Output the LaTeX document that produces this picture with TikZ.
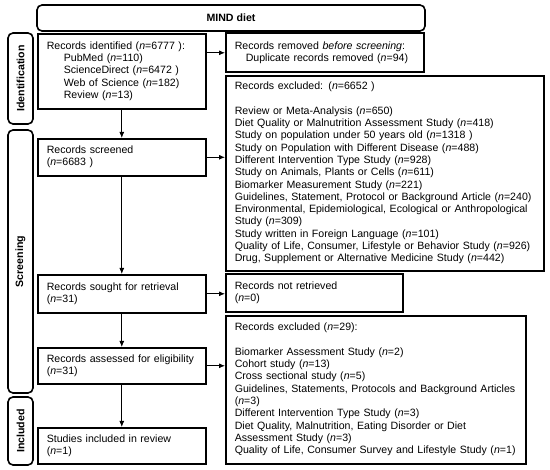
\documentclass[tikz,border=0pt]{standalone}
\usepackage{fontspec}
\setmainfont{Liberation Sans}
\usetikzlibrary{positioning, arrows.meta}

\tikzset{
  box/.style={draw, line width=1.6pt, anchor=north west, align=left, inner xsep=9pt, font=\fontsize{10.6}{12.3}\selectfont},
  phase/.style={draw, line width=1.6pt, rounded corners=5pt, rotate=90, font=\bfseries\fontsize{10.6}{12}\selectfont},
  flow/.style={-{Latex[length=6pt,width=5pt]}, line width=0.8pt}
}
\newcommand{\nn}{\textit{n}}
\newcommand{\boxlines}[1]{\begin{tabular}{@{}l@{}}#1\end{tabular}}

\begin{document}
\begin{tikzpicture}[x=1pt, y=-1pt]
\useasboundingbox (0,0) rectangle (550,470);

\node[draw, line width=1.6pt, rounded corners=5pt, minimum width=388pt, minimum height=26pt, font=\bfseries\fontsize{10.6}{12}\selectfont] at (231,18) (title) {MIND diet} ;

\node[phase, minimum width=91pt, minimum height=25pt] at (20.5,78.5) (lblIdent) {Identification} ;
\node[phase, minimum width=263pt, minimum height=25pt] at (20.5,261.5) (lblScreen) {Screening} ;
\node[phase, minimum width=68pt, minimum height=25pt] at (20.5,431) (lblIncl) {Included} ;

\node[box, minimum width=168pt, minimum height=75pt, text width=150pt] at (37,33) (ident) {\boxlines{Records identified (\nn=6777 ):\\
\hspace*{17pt}PubMed (\nn=110)\\
\hspace*{17pt}ScienceDirect (\nn=6472 )\\
\hspace*{17pt}Web of Science (\nn=182)\\
\hspace*{17pt}Review (\nn=13)}} ;
\node[box, minimum width=198pt, minimum height=39pt, text width=180pt] at (225,32.5) (removed) {\boxlines{Records removed \textit{before screening}:\\
\hspace*{11pt}Duplicate records removed (\nn=94)}} ;
\node[box, minimum width=318pt, minimum height=195pt, text width=300pt] at (225,75) (excl1) {\boxlines{Records excluded: (\nn=6652 )\\[12.3pt]
Review or Meta-Analysis (\nn=650)\\
Diet Quality or Malnutrition Assessment Study (\nn=418)\\
Study on population under 50 years old (\nn=1318 )\\
Study on Population with Different Disease (\nn=488)\\
Different Intervention Type Study (\nn=928)\\
Study on Animals, Plants or Cells (\nn=611)\\
Biomarker Measurement Study (\nn=221)\\
Guidelines, Statement, Protocol or Background Article (\nn=240)\\
Environmental, Epidemiological, Ecological or Anthropological\\
Study (\nn=309)\\
Study written in Foreign Language (\nn=101)\\
Quality of Life, Consumer, Lifestyle or Behavior Study (\nn=926)\\
Drug, Supplement or Alternative Medicine Study (\nn=442)}} ;

\node[box, minimum width=168pt, minimum height=37pt, text width=150pt] at (37,138) (screened) {\boxlines{Records screened\\(\nn=6683 )}} ;
\node[box, minimum width=168pt, minimum height=38pt, text width=150pt] at (37,274) (sought) {\boxlines{Records sought for retrieval\\(\nn=31)}} ;
\node[box, minimum width=177pt, minimum height=38pt, text width=159pt] at (225,273) (notret) {\boxlines{Records not retrieved\\(\nn=0)}} ;
\node[box, minimum width=168pt, minimum height=36pt, text width=150pt] at (37,347) (assessed) {\boxlines{Records assessed for eligibility\\(\nn=31)}} ;
\node[box, minimum width=300pt, minimum height=148pt, text width=282pt] at (225,315) (excl2) {\boxlines{Records excluded (\nn=29):\\[12.3pt]
Biomarker Assessment Study (\nn=2)\\
Cohort study (\nn=13)\\
Cross sectional study (\nn=5)\\
Guidelines, Statements, Protocols and Background Articles\\
(\nn=3)\\
Different Intervention Type Study (\nn=3)\\
Diet Quality, Malnutrition, Eating Disorder or Diet\\
Assessment Study (\nn=3)\\
Quality of Life, Consumer Survey and Lifestyle Study (\nn=1)}} ;
\node[box, minimum width=168pt, minimum height=36pt, text width=150pt] at (37,427) (included) {\boxlines{Studies included in review\\(\nn=1)}} ;

\draw[flow] (ident.east |- removed.west) -- (removed.west) ;
\draw[flow] (ident) -- (screened) ;
\draw[flow] (screened.east) -- (screened.east -| excl1.west) ;
\draw[flow] (screened) -- (sought) ;
\draw[flow] (sought.east) -- (sought.east -| notret.west) ;
\draw[flow] (sought) -- (assessed) ;
\draw[flow] (assessed.east) -- (assessed.east -| excl2.west) ;
\draw[flow] (assessed) -- (included) ;
\end{tikzpicture}
\end{document}
